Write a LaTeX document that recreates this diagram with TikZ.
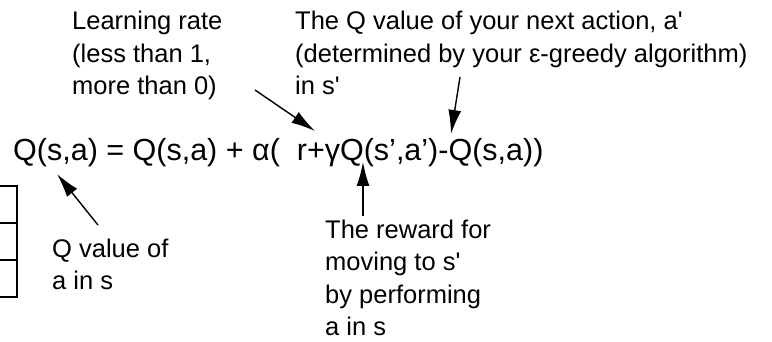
\documentclass[tikz,border=0pt]{standalone}
\usepackage{fontspec}
\setmainfont{Liberation Sans}
\usetikzlibrary{arrows.meta}
\newcommand{\sq}{\textquotesingle}
\begin{document}
\begin{tikzpicture}[x=1pt,y=-1pt,
  lbl/.style={anchor=base west,inner sep=0pt,align=left,font=\fontsize{25.5}{32.5}\selectfont},
  eqn/.style={anchor=base west,inner sep=0pt,font=\fontsize{30.5}{36}\selectfont},
  ptr/.style={line width=1.4pt,-{Latex[length=24pt,width=13pt]}},
  tbl/.style={line width=1.4pt}]
\useasboundingbox (0,0) rectangle (772,342);
% anchor base = baseline of the last line
\node[lbl] (lr) at (72,95) {Learning rate\\(less than 1,\\more than 0)};
\node[lbl] (qn) at (295,95) {The Q value of your next action, a\sq\\(determined by your ε-greedy algorithm)\\in s\sq};
\node[eqn] (eq) at (13,161) {Q(s,a) = Q(s,a) + α(\ \ r+γQ(s’,a’)-Q(s,a))};
\node[lbl] (qv) at (52,290) {Q value of\\a in s};
\node[lbl] (rw) at (325,335.5) {The reward for\\moving to s\sq\\by performing\\a in s};
% arrow endpoints
\coordinate (a1s) at (255,90);  \coordinate (a1e) at (315,131);
\coordinate (a2s) at (460,77);  \coordinate (a2e) at (451,134);
\coordinate (a3s) at (98,225);  \coordinate (a3e) at (57,174);
\coordinate (a4s) at (363,216); \coordinate (a4e) at (363,162);
\draw[ptr] (a1s) -- (a1e);
\draw[ptr] (a2s) -- (a2e);
\draw[ptr] (a3s) -- (a3e);
\draw[ptr] (a4s) -- (a4e);
% partial table at left edge
\coordinate (t1) at (17,186); \coordinate (t4) at (17,297);
\draw[tbl] (0,186) -- (t1) -- (t4) -- (0,297);
\draw[tbl] (0,223) -- (17,223);
\draw[tbl] (0,260) -- (17,260);
\end{tikzpicture}
\end{document}
